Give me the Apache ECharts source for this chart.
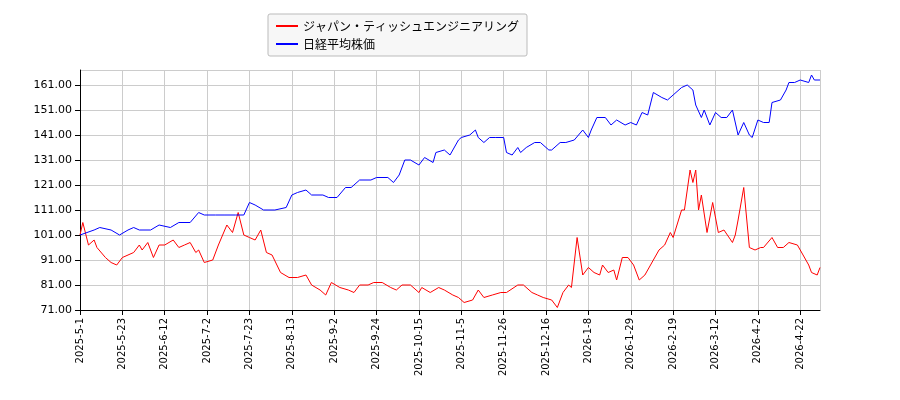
<!DOCTYPE html>
<html>
<head>
<meta charset="utf-8">
<script src="https://cdn.jsdelivr.net/npm/echarts@6/dist/echarts.min.js"></script>
<style>
  html, body { margin: 0; padding: 0; background: #fff; }
  #chart { width: 900px; height: 400px; }
</style>
</head>
<body>
<div id="chart"></div>
<script>
// tick labels on the x axis, one every 15 trading days
var dateLabels = ['2025-5-1', '2025-5-23', '2025-6-12', '2025-7-2', '2025-7-23', '2025-8-13',
  '2025-9-2', '2025-9-24', '2025-10-15', '2025-11-5', '2025-11-26', '2025-12-16',
  '2026-1-8', '2026-1-29', '2026-2-19', '2026-3-12', '2026-4-2', '2026-4-22']

var yBase = 71

// [trading day index, value]
var companyData = [
  [0,101],[1,106],[3,97],[5,99],[6,96],[9,92],[11,90],[13,89],[15,92],[19,94],[21,97],[22,95],
  [24,98],[26,92],[28,97],[30,97],[33,99],[35,96],[37,97],[39,98],[41,94],[42,95],[44,90],[47,91],
  [49,97],[52,105],[54,102],[56,110],[58,101],[60,100],[62,99],[64,103],[66,94],[68,93],[71,86],
  [74,84],[77,84],[80,85],[82,81],[85,79],[87,77],[89,82],[92,80],[95,79],[97,78],[99,81],[102,81],
  [104,82],[107,82],[110,80],[112,79],[114,81],[117,81],[120,78],[121,80],[124,78],[127,80],[129,79],
  [132,77],[134,76],[136,74],[139,75],[141,79],[143,76],[146,77],[149,78],[151,78],[155,81],[157,81],
  [160,78],[162,77],[164,76],[167,75],[169,72],[171,78],[173,81],[174,80],[176,100],[178,85],[180,88],
  [182,86],[184,85],[185,89],[187,86],[189,87],[190,83],[192,92],[194,92],[196,89],[198,83],[200,85],
  [202,89],[203,91],[205,95],[207,97],[209,102],[210,100],[213,111],[214,111],[216,127],[217,122],
  [218,127],[219,111],[220,117],[222,102],[224,114],[226,102],[228,103],[231,98],[232,101],[233,107],
  [235,120],[237,96],[239,95],[241,96],[242,96],[245,100],[247,96],[249,96],[251,98],[254,97],
  [256,93],[258,89],[259,86],[261,85],[262,88]
]

var nikkeiData = [
  [0,101],[5,103],[7,104],[11,103],[14,101],[17,103],[19,104],[21,103],[25,103],[28,105],[32,104],
  [35,106],[39,106],[42,110],[44,109],[48,109],[51,109],[55,109],[58,109],[60,114],[62,113],[65,111],
  [69,111],[73,112],[75,117],[77,118],[80,119],[82,117],[86,117],[88,116],[91,116],[94,120],[96,120],
  [99,123],[103,123],[105,124],[109,124],[111,122],[113,125],[115,131],[117,131],[120,129],[122,132],
  [125,130],[126,134],[129,135],[131,133],[134,139],[135,140],[138,141],[140,143],[141,140],[143,138],
  [145,140],[147,140],[150,140],[151,134],[153,133],[155,136],[156,134],[158,136],[161,138],[163,138],
  [166,135],[167,135],[170,138],[172,138],[175,139],[178,143],[180,140],[181,143],[183,148],[186,148],
  [188,145],[190,147],[193,145],[195,146],[197,145],[199,150],[201,149],[203,158],[206,156],[208,155],
  [210,157],[213,160],[215,161],[217,159],[218,153],[220,148],[221,151],[223,145],[225,150],[227,148],
  [229,148],[231,151],[233,141],[235,146],[237,141],[238,140],[240,147],[242,146],[244,146],[245,154],
  [248,155],[250,159],[251,162],[253,162],[255,163],[258,162],[259,165],[260,163],[262,163]
]

function shift (list) {
  var out = []
  for (var i = 0; i < list.length; i++) out.push([list[i][0], list[i][1] - yBase])
  return out
}

var chart = echarts.init(document.getElementById('chart'))

chart.setOption({
  animation: false,
  textStyle: { fontFamily: 'DejaVu Sans' },
  grid: { left: 80, right: 80, top: 70, bottom: 90 },
  legend: {
    left: 268, top: 14, orient: 'vertical',
    itemWidth: 22, itemHeight: 2, itemGap: 6,
    padding: [6, 8],
    borderColor: '#bbb', borderWidth: 1, borderRadius: 2,
    backgroundColor: '#f7f7f7',
    textStyle: { fontFamily: 'Noto Sans CJK JP', fontSize: 12, color: '#000' },
    data: [
      { name: 'ジャパン・ティッシュエンジニアリング', icon: 'rect' },
      { name: '日経平均株価', icon: 'rect' }
    ]
  },
  xAxis: {
    type: 'value', min: 0, max: 262, interval: 15,
    axisLine: { lineStyle: { color: '#000' } },
    axisTick: { lineStyle: { color: '#000' } },
    axisLabel: {
      rotate: 90, fontSize: 10, color: '#000', showMaxLabel: false,
      formatter: function (v) { return dateLabels[v / 15] || '' }
    },
    splitLine: { show: true, lineStyle: { color: '#ccc' } }
  },
  yAxis: {
    type: 'value', min: 0, max: 96, interval: 10,
    axisLine: { show: true, lineStyle: { color: '#000' } },
    axisTick: { show: true, lineStyle: { color: '#000' } },
    axisLabel: {
      fontSize: 11, color: '#000', showMaxLabel: false,
      formatter: function (v) { return (v + yBase).toFixed(2) }
    },
    splitLine: { show: true, lineStyle: { color: '#ccc' } }
  },
  series: [
    {
      name: 'ジャパン・ティッシュエンジニアリング', type: 'line', data: shift(companyData),
      showSymbol: false, color: '#ff0000', lineStyle: { width: 1, color: '#ff0000' }
    },
    {
      name: '日経平均株価', type: 'line', data: shift(nikkeiData),
      showSymbol: false, color: '#0000ff', lineStyle: { width: 1, color: '#0000ff' }
    }
  ]
})
</script>
</body>
</html>
